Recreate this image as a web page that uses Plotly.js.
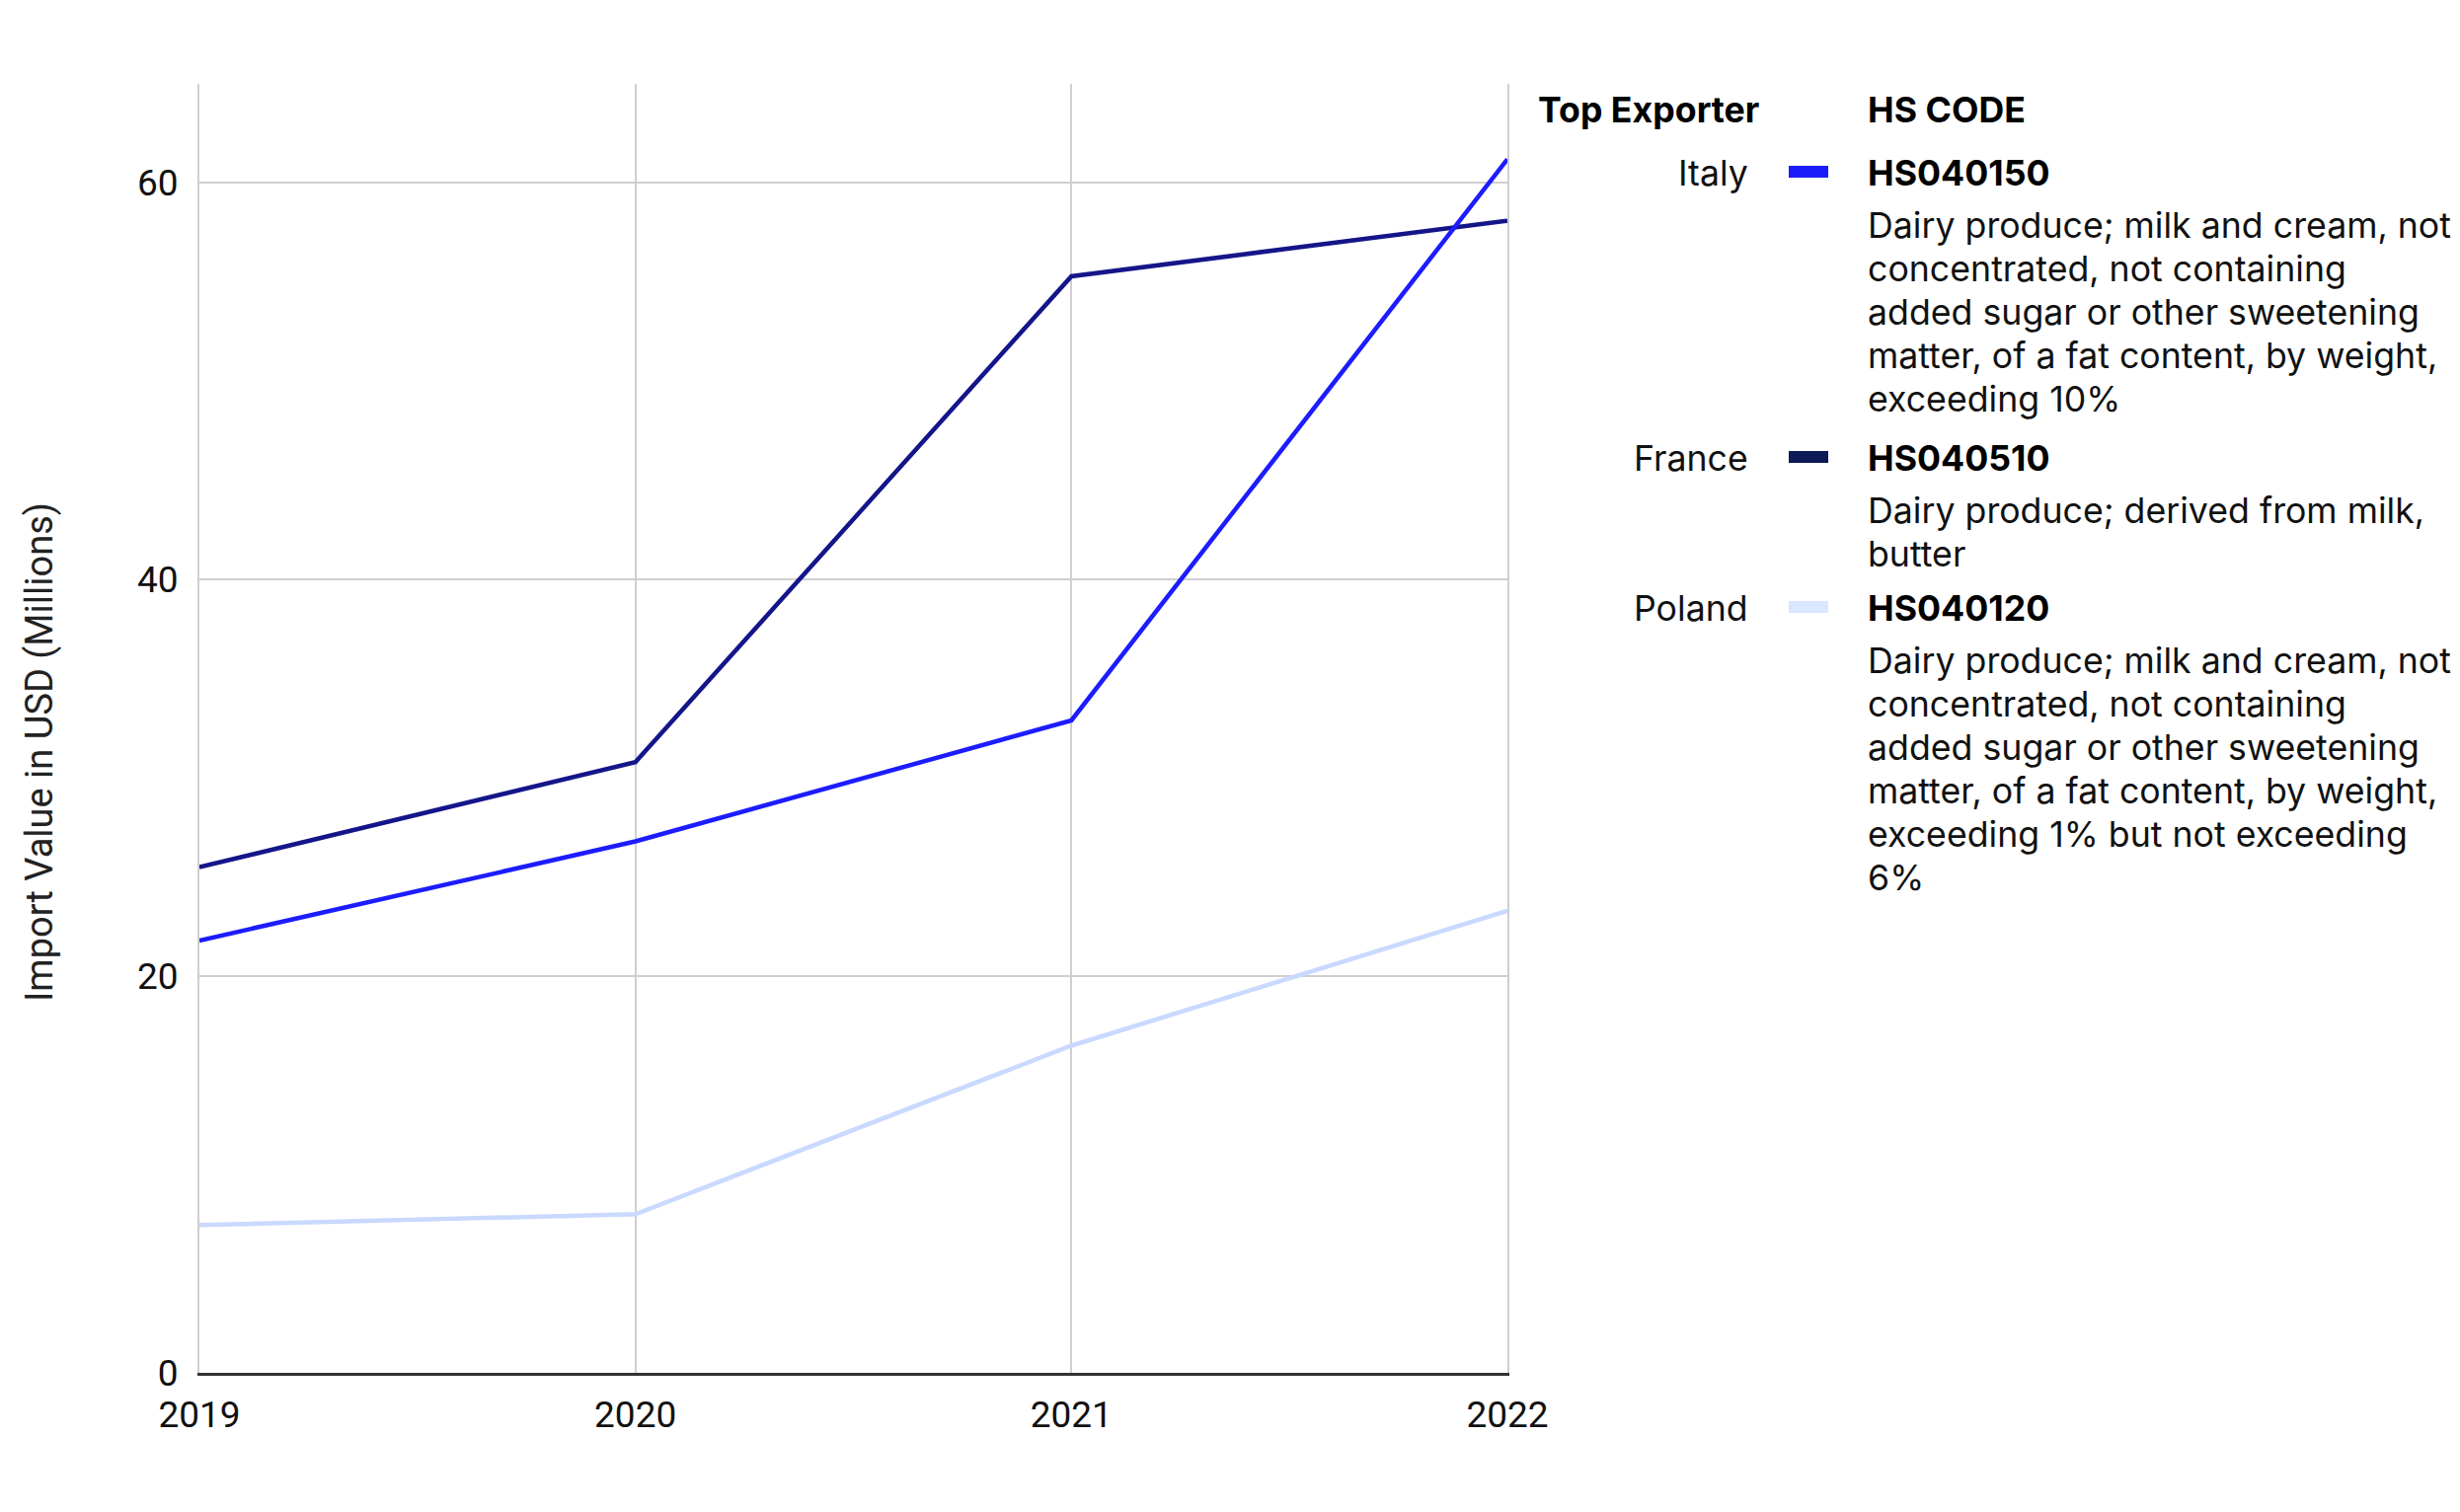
<!DOCTYPE html>
<html>
<head>
<meta charset="utf-8">
<script src="https://cdn.plot.ly/plotly-3.0.1.min.js"></script>
<style>
  html, body { margin: 0; padding: 0; background: #ffffff; }
  #chart { width: 2492px; height: 1532px; }
</style>
</head>
<body>
<div id="chart"></div>
<script>
// ---- Data ----
const years = [2019, 2020, 2021, 2022];
const italy = [21.8, 26.8, 32.9, 61.2];
const france = [25.5, 30.8, 55.3, 58.1];
const poland = [7.45, 8.0, 16.5, 23.3];
const yTicks = [0, 20, 40, 60];

const countries = ['Italy', 'France', 'Poland'];
const hsCodes = ['HS040150', 'HS040510', 'HS040120'];
const descriptions = [
  ['Dairy produce; milk and cream, not', 'concentrated, not containing', 'added sugar or other sweetening', 'matter, of a fat content, by weight,', 'exceeding 10%'],
  ['Dairy produce; derived from milk,', 'butter'],
  ['Dairy produce; milk and cream, not', 'concentrated, not containing', 'added sugar or other sweetening', 'matter, of a fat content, by weight,', 'exceeding 1% but not exceeding', '6%']
];
const legendHeaderLeft = 'Top Exporter';
const legendHeaderRight = 'HS CODE';
const yTitle = 'Import Value in USD (Millions)';

// ---- Styles ----
const lineColors = ['#1c1cff', '#15158a', '#c9d9ff'];
const swatchColors = ['#1c1cf8', '#0c1a55', '#dbe6ff'];
const seriesValues = [italy, france, poland];

// ---- Layout geometry (pixels) ----
const W = 2492, H = 1532;
const M = {l: 202, r: 965, t: 85, b: 141};
const PW = W - M.l - M.r, PH = H - M.t - M.b;
const px2x = p => (p - M.l) / PW;
const px2y = p => (H - M.b - p) / PH;

const txtFont = '"Inter", "Noto Sans", sans-serif';
const axisFont = 'Roboto, "Liberation Sans", Arial, sans-serif';
const legendSize = 35.7;

// draw order: Poland, France, Italy (Italy on top)
const order = [2, 1, 0];
const traces = order.map(i => ({
  x: years,
  y: seriesValues[i],
  type: 'scatter',
  mode: 'lines',
  name: countries[i],
  line: {color: lineColors[i], width: 4.5},
  hoverinfo: 'x+y+name'
}));

const annotations = [];
const shapes = [];

// y axis title
annotations.push({
  xref: 'paper', yref: 'paper',
  x: px2x(40), y: px2y(762),
  text: yTitle, textangle: -90, showarrow: false,
  xanchor: 'center', yanchor: 'middle',
  font: {family: axisFont, size: 38, color: '#222222'}
});

// legend headers
const colCountryRight = 1773, colSwatchL = 1812, colSwatchR = 1852, colCode = 1890;
annotations.push({
  xref: 'paper', yref: 'paper', x: px2x(1556), y: px2y(111),
  xanchor: 'left', yanchor: 'middle', showarrow: false,
  text: legendHeaderLeft,
  font: {family: txtFont, size: legendSize, color: '#000000', weight: 700}
});
annotations.push({
  xref: 'paper', yref: 'paper', x: px2x(colCode), y: px2y(111),
  xanchor: 'left', yanchor: 'middle', showarrow: false,
  text: legendHeaderRight,
  font: {family: txtFont, size: legendSize, color: '#000000', weight: 700}
});

// legend rows
const rowY = [175, 464, 616];
const codeToDesc = 53, descStep = 44;
countries.forEach((c, i) => {
  const ry = rowY[i];
  annotations.push({
    xref: 'paper', yref: 'paper', x: px2x(colCountryRight), y: px2y(ry),
    xanchor: 'right', yanchor: 'middle', showarrow: false,
    text: c, font: {family: txtFont, size: legendSize, color: '#111111'}
  });
  shapes.push({
    type: 'rect', xref: 'paper', yref: 'paper',
    x0: px2x(colSwatchL), x1: px2x(colSwatchR),
    y0: px2y(ry - 7), y1: px2y(ry + 5),
    fillcolor: swatchColors[i], line: {width: 0}
  });
  annotations.push({
    xref: 'paper', yref: 'paper', x: px2x(colCode), y: px2y(ry),
    xanchor: 'left', yanchor: 'middle', showarrow: false,
    text: hsCodes[i], font: {family: txtFont, size: legendSize, color: '#000000', weight: 700}
  });
  descriptions[i].forEach((ln, j) => {
    annotations.push({
      xref: 'paper', yref: 'paper', x: px2x(colCode), y: px2y(ry + codeToDesc + j * descStep),
      xanchor: 'left', yanchor: 'middle', showarrow: false,
      text: ln, font: {family: txtFont, size: legendSize, color: '#111111'}
    });
  });
});

const layout = {
  width: W, height: H,
  margin: M,
  paper_bgcolor: '#ffffff', plot_bgcolor: '#ffffff',
  showlegend: false,
  xaxis: {
    range: [2019, 2022],
    tickvals: years,
    ticktext: years.map(String),
    showgrid: true, gridcolor: '#cfcfcf', gridwidth: 2,
    showline: true, linecolor: '#333333', linewidth: 3,
    zeroline: false, ticks: '',
    ticklabelstandoff: 8,
    tickfont: {family: axisFont, size: 37, color: '#111111'}
  },
  yaxis: {
    range: [0, 65],
    tickvals: yTicks,
    ticktext: yTicks.map(String),
    showgrid: true, gridcolor: '#cfcfcf', gridwidth: 2,
    showline: true, mirror: true, linecolor: '#cfcfcf', linewidth: 2,
    zeroline: false, ticks: '',
    ticklabelstandoff: 12,
    tickfont: {family: axisFont, size: 37, color: '#111111'}
  },
  annotations: annotations,
  shapes: shapes
};

Plotly.newPlot('chart', traces, layout, {displayModeBar: false, staticPlot: true});
</script>
</body>
</html>
